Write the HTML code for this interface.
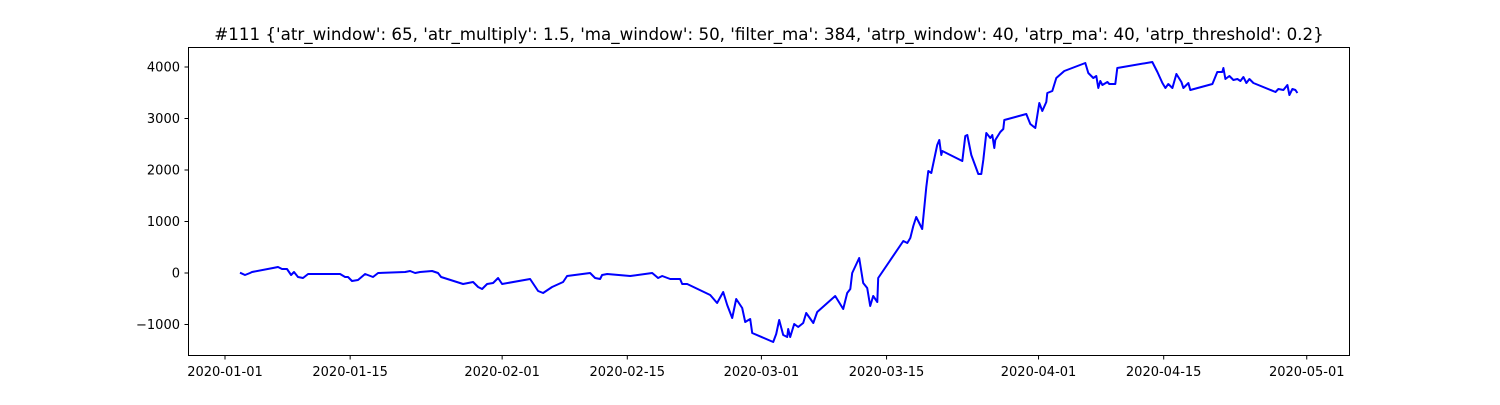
<!DOCTYPE html>
<html><head><meta charset="utf-8"><style>
body{margin:0;background:#fff}
svg text{font-family:"DejaVu Sans","Liberation Sans",sans-serif;fill:#000}
</style></head><body>
<svg id="chart" width="1500" height="400" xmlns="http://www.w3.org/2000/svg">
<rect width="1500" height="400" fill="#fff"/>
<text x="769" y="40" font-size="16.7" text-anchor="middle">#111 {'atr_window': 65, 'atr_multiply': 1.5, 'ma_window': 50, 'filter_ma': 384, 'atrp_window': 40, 'atrp_ma': 40, 'atrp_threshold': 0.2}</text>
<g id="axes"></g>
<path id="line" fill="none" stroke="#0000ff" stroke-width="2" stroke-linejoin="round"/>
<rect x="188.5" y="47.5" width="1161" height="308" fill="none" stroke="#000" stroke-width="1"/>
</svg>
<script>
// days since 2020-01-01
const days=[1.68,2.24,2.80,3.02,5.37,5.93,6.38,6.94,7.39,7.72,8.17,8.73,9.29,10.30,12.87,13.43,13.76,14.21,14.88,15.67,16.56,17.12,20.14,20.70,21.26,21.82,23.16,23.83,24.17,26.63,27.75,28.31,28.76,29.32,29.99,30.55,31.00,34.13,35.02,35.58,36.59,37.82,38.27,40.84,41.40,41.96,42.18,42.75,45.32,47.78,48.45,48.90,49.80,50.91,51.14,51.70,54.27,55.05,55.73,56.17,56.73,57.18,57.85,58.19,58.75,58.97,61.32,61.66,61.99,62.44,62.89,63.00,63.22,63.67,64.12,64.68,65.01,65.80,66.24,68.26,69.15,69.60,69.94,70.16,70.94,71.39,71.84,72.17,72.51,72.96,73.07,75.87,76.32,76.65,76.99,77.32,77.99,78.44,78.67,79.00,79.67,79.90,80.12,80.23,82.47,82.81,83.03,83.48,84.26,84.60,84.82,85.16,85.60,85.83,86.05,86.16,86.72,87.06,87.17,89.63,90.08,90.64,91.09,91.42,91.87,91.98,92.54,92.99,93.88,96.23,96.57,97.13,97.46,97.69,97.91,98.14,98.70,98.92,99.59,99.81,103.73,104.29,104.85,105.19,105.52,105.97,106.42,106.98,107.20,107.76,107.98,110.45,111.00,111.56,111.68,111.90,112.35,112.80,113.24,113.58,113.91,114.25,114.59,115.03,117.50,117.83,118.39,118.84,119.06,119.40,119.73,119.96];
const values=[6,-39,0,19,97,117,78,78,-39,19,-78,-97,-19,-19,-19,-78,-78,-155,-136,-19,-78,0,19,39,0,19,39,0,-78,-214,-175,-272,-311,-214,-194,-97,-214,-117,-350,-388,-272,-175,-58,0,-97,-117,-39,-19,-58,0,-97,-58,-117,-117,-214,-214,-427,-583,-369,-621,-874,-505,-680,-952,-893,-1165,-1340,-1185,-913,-1204,-1243,-1088,-1243,-990,-1049,-971,-777,-971,-757,-447,-699,-388,-311,0,291,-194,-291,-641,-447,-563,-97,621,583,680,913,1088,854,1670,1981,1942,2486,2583,2292,2369,2175,2661,2680,2292,1923,1923,2194,2719,2622,2680,2428,2583,2738,2796,2971,3088,2894,2816,3301,3146,3321,3496,3534,3787,3923,4078,3884,3787,3826,3593,3729,3651,3709,3670,3670,3981,4098,3903,3690,3593,3670,3593,3865,3709,3593,3690,3554,3670,3903,3903,3981,3767,3826,3748,3767,3729,3806,3690,3767,3690,3515,3573,3554,3651,3457,3573,3554,3496];
const yTicks=[-1000,0,1000,2000,3000,4000];
const xTickDays=[0,14,31,45,60,74,91,105,121];
const xTickLabels=["2020-01-01","2020-01-15","2020-02-01","2020-02-15","2020-03-01","2020-03-15","2020-04-01","2020-04-15","2020-05-01"];
const X=d=>225+d*8.94;
const Y=v=>273-v*0.0515;
const NS="http://www.w3.org/2000/svg";
const ax=document.getElementById('axes');
function mk(tag,attrs){const e=document.createElementNS(NS,tag);for(const k in attrs)e.setAttribute(k,attrs[k]);ax.appendChild(e);return e;}
yTicks.forEach(v=>{
  const y=Y(v);
  const t=mk('line',{x1:184.5,x2:188.5,y1:y,y2:y,stroke:'#000'});
  
  
  const l=mk('text',{x:180,y:y+4.5,'font-size':'13','text-anchor':'end'});
  
  
  l.textContent=v<0?'\u2212'+Math.abs(v):String(v);
});
xTickDays.forEach((d,i)=>{
  const x=X(d);
  const t=mk('line',{x1:x,x2:x,y1:355.5,y2:359.5,stroke:'#000'});
  
  
  const l=mk('text',{x:x,y:376,'font-size':'13','text-anchor':'middle'});
  
  
  l.textContent=xTickLabels[i];
});
document.getElementById('line').setAttribute('d',days.map((d,i)=>(i?'L':'M')+X(d).toFixed(1)+','+Y(values[i]).toFixed(1)).join(''));
</script>
</body></html>
